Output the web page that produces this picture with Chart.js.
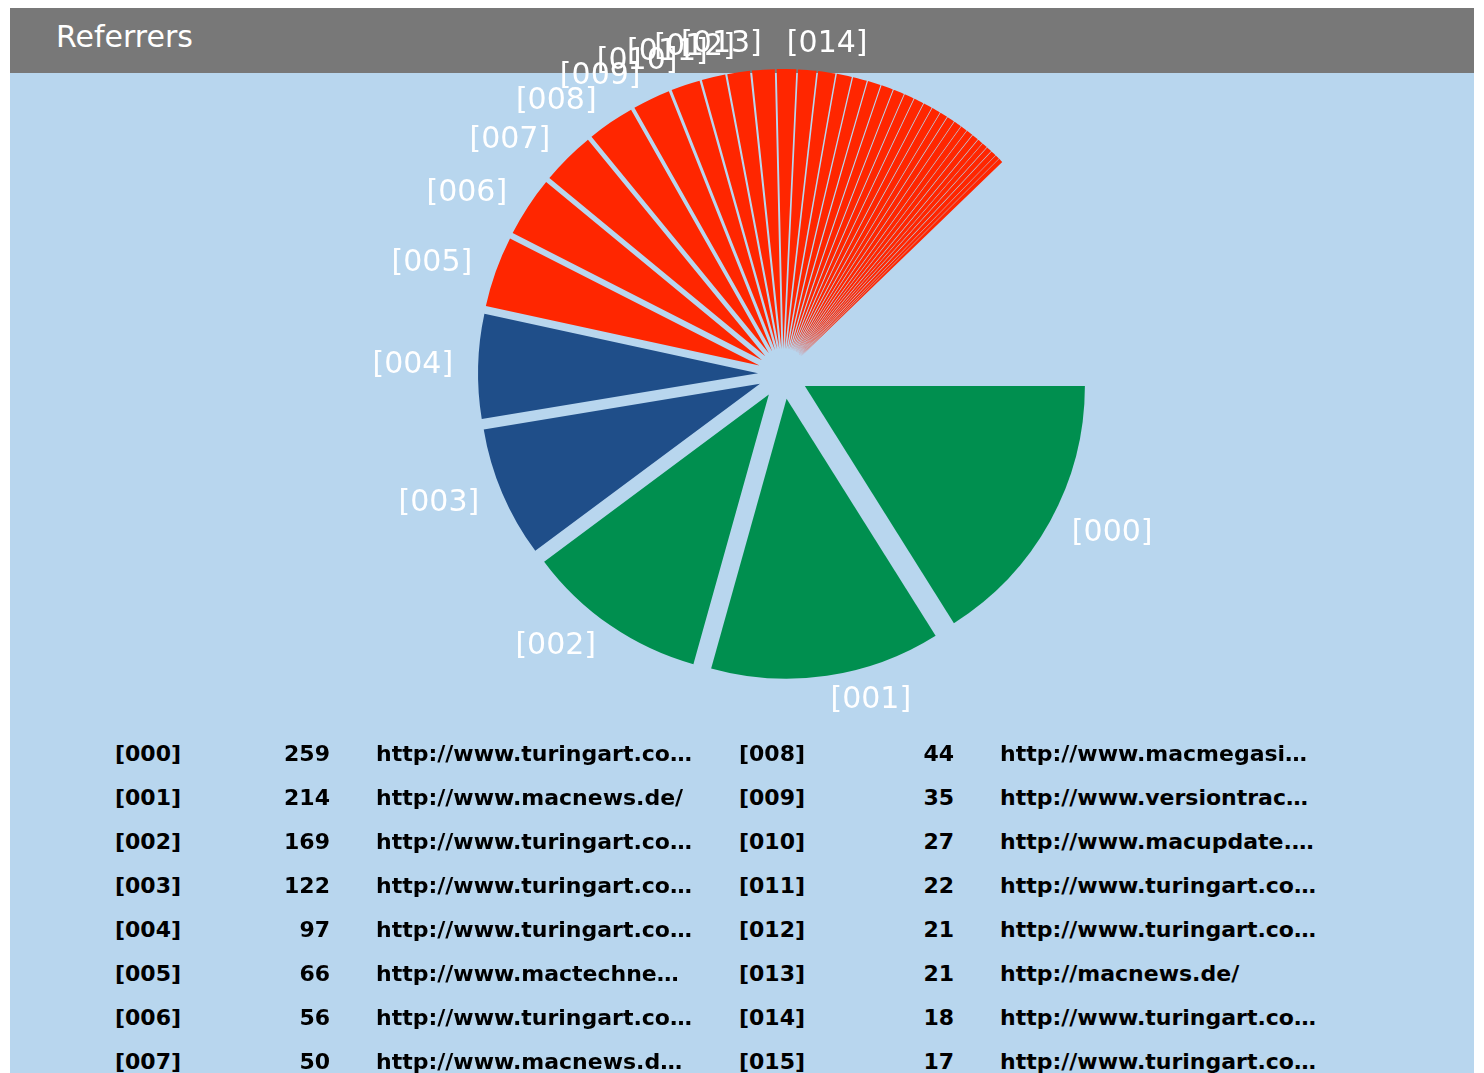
<!DOCTYPE html>
<html>
<head>
<meta charset="utf-8">
<title>Referrers</title>
<script src="https://cdn.jsdelivr.net/npm/chart.js@4.4.1/dist/chart.umd.min.js"></script>
<style>
  html, body { margin: 0; padding: 0; width: 1484px; height: 1073px; overflow: hidden; background: #fff; }
  #panel { position: absolute; left: 10px; top: 8px; width: 1464px; height: 1065px; background: #b8d6ee; }
  #header { position: absolute; left: 10px; top: 8px; width: 1464px; height: 65px; background: #787878; }
  #header span { position: absolute; left: 46px; top: 0; font: 30px "DejaVu Sans", sans-serif; line-height: 58px; color: #fff; }
  #pie-wrap { position: absolute; left: 333px; top: 4px; width: 900px; height: 740px; }
  .cell { position: absolute; font: bold 22px "DejaVu Sans", sans-serif; color: #000; line-height: 30px; white-space: nowrap; }
  .num { text-align: right; width: 80px; }
</style>
</head>
<body>
<div id="panel"></div>
<div id="header"><span>Referrers</span></div>
<div id="pie-wrap"><canvas id="pie"></canvas></div>
<div id="table"></div>

<script>
// referrers shown in the table
const keys = ['[000]', '[001]', '[002]', '[003]', '[004]', '[005]', '[006]', '[007]',
              '[008]', '[009]', '[010]', '[011]', '[012]', '[013]', '[014]', '[015]'];
const hits = [259, 214, 169, 122, 97, 66, 56, 50, 44, 35, 27, 22, 21, 21, 18, 17];
const urls = [
  'http://www.turingart.co…',
  'http://www.macnews.de/',
  'http://www.turingart.co…',
  'http://www.turingart.co…',
  'http://www.turingart.co…',
  'http://www.mactechne…',
  'http://www.turingart.co…',
  'http://www.macnews.d…',
  'http://www.macmegasi…',
  'http://www.versiontrac…',
  'http://www.macupdate.…',
  'http://www.turingart.co…',
  'http://www.turingart.co…',
  'http://macnews.de/',
  'http://www.turingart.co…',
  'http://www.turingart.co…'
];
// smaller referrers after [015], only visible as thin slices
const tailHits = [16, 14, 13, 12, 11, 10, 9, 9, 8, 8, 7, 7, 7, 6, 6, 6, 5, 5, 5, 5, 4, 4];

const GREEN = '#008f4f';
const BLUE = '#1f4e89';
const RED = '#ff2600';

const EXPLODE = 25;   // px each slice is pushed out
const LABEL_R = 330;  // px from centre for the slice labels
const LABELLED = 15;  // only the first slices get a label

const allHits = hits.concat(tailHits);
const allKeys = keys.concat(tailHits.map((v, i) => '[0' + (16 + i) + ']'));
const colors = allHits.map((v, i) => i < 3 ? GREEN : (i < 5 ? BLUE : RED));

// draw the slices pushed out along their middle angle
const explode = {
  id: 'explode',
  beforeDatasetDraw(chart, args) {
    const ctx = chart.ctx;
    args.meta.data.forEach(arc => {
      const mid = (arc.startAngle + arc.endAngle) / 2;
      ctx.save();
      ctx.translate(Math.cos(mid) * EXPLODE, Math.sin(mid) * EXPLODE);
      arc.draw(ctx);
      ctx.restore();
    });
    return false;
  }
};

const sliceLabels = {
  id: 'sliceLabels',
  afterDatasetsDraw(chart) {
    const ctx = chart.ctx;
    const arcs = chart.getDatasetMeta(0).data;
    ctx.save();
    ctx.font = '30px "DejaVu Sans"';
    ctx.fillStyle = '#fff';
    ctx.textBaseline = 'middle';
    arcs.slice(0, LABELLED).forEach((arc, i) => {
      const mid = (arc.startAngle + arc.endAngle) / 2;
      ctx.textAlign = Math.cos(mid) >= 0 ? 'left' : 'right';
      ctx.fillText(chart.data.labels[i], arc.x + Math.cos(mid) * LABEL_R, arc.y + Math.sin(mid) * LABEL_R);
    });
    ctx.restore();
  }
};

new Chart(document.getElementById('pie'), {
  type: 'pie',
  data: {
    labels: allKeys,
    datasets: [{
      data: allHits,
      backgroundColor: colors,
      borderWidth: 0
    }]
  },
  options: {
    responsive: true,
    maintainAspectRatio: false,
    animation: false,
    rotation: 90,
    circumference: 316,
    radius: 280,
    layout: { padding: 0 },
    plugins: {
      legend: { display: false },
      tooltip: { enabled: true }
    }
  },
  plugins: [explode, sliceLabels]
});

// table under the chart, two columns of 8 rows
const table = document.getElementById('table');
const colX = [115, 739];
keys.forEach((key, i) => {
  const col = Math.floor(i / 8);
  const row = i % 8;
  const top = 739 + row * 44;
  const x = colX[col];

  const k = document.createElement('div');
  k.className = 'cell';
  k.style.left = x + 'px';
  k.style.top = top + 'px';
  k.textContent = key;

  const n = document.createElement('div');
  n.className = 'cell num';
  n.style.left = (x + 135) + 'px';
  n.style.top = top + 'px';
  n.textContent = hits[i];

  const u = document.createElement('div');
  u.className = 'cell';
  u.style.left = (x + 261) + 'px';
  u.style.top = top + 'px';
  u.textContent = urls[i];

  table.appendChild(k);
  table.appendChild(n);
  table.appendChild(u);
});
</script>
</body>
</html>
